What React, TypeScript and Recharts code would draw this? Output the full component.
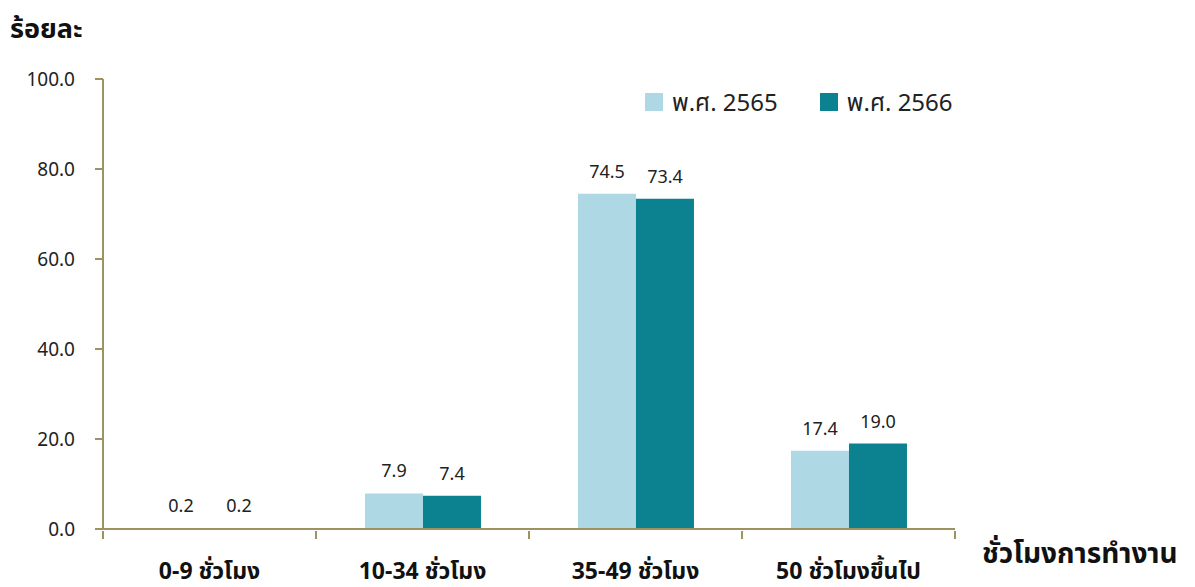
import React from 'react';
import { BarChart, Bar, XAxis, YAxis, LabelList } from 'recharts';

const categories = ['0-9 ชั่วโมง', '10-34 ชั่วโมง', '35-49 ชั่วโมง', '50 ชั่วโมงขึ้นไป'];
const series2565 = [0.2, 7.9, 74.5, 17.4];
const series2566 = [0.2, 7.4, 73.4, 19.0];
const seriesNames = ['พ.ศ. 2565', 'พ.ศ. 2566'];
const seriesColors = ['#ADD8E4', '#0C8290'];
const yTicks = [0, 20, 40, 60, 80, 100];

const data = categories.map((c, i) => ({ name: c, s2565: series2565[i], s2566: series2566[i] }));

const FONT = '"Noto Sans", "Noto Sans Thai", "Open Sans", sans-serif';
const AXIS = '#9C9262';

const XTick = (props: any) => {
  const { x, y, payload, index } = props;
  const half = payload && payload.offset ? payload.offset : 0;
  const last = index === categories.length - 1;
  return (
    <g>
      <line x1={x - half} x2={x - half} y1={y - 8} y2={y} stroke={AXIS} strokeWidth={2} />
      {last && <line x1={x + half} x2={x + half} y1={y - 8} y2={y} stroke={AXIS} strokeWidth={2} />}
      <text x={x} y={y + 40} textAnchor="middle" fill="#111" fontSize={23} fontWeight={700} fontFamily={FONT}>
        {payload.value}
      </text>
    </g>
  );
};

export default function App() {
  return (
    <div style={{ position: 'absolute', left: 0, top: 0, width: 1195, height: 587, background: '#fff', fontFamily: FONT }}>
      <div style={{ position: 'absolute', left: 10, top: 10, fontSize: 27, fontWeight: 700, color: '#111', lineHeight: '36px' }}>ร้อยละ</div>
      <div style={{ position: 'absolute', left: 982, top: 533, fontSize: 28, fontWeight: 700, color: '#111', lineHeight: '38px', whiteSpace: 'nowrap' }}>ชั่วโมงการทำงาน</div>
      <div style={{ position: 'absolute', left: 645, top: 86, display: 'flex', fontSize: 24, color: '#222', lineHeight: '32px' }}>
        {seriesNames.map((n, i) => (
          <div key={n} style={{ display: 'flex', alignItems: 'center', marginRight: 42 }}>
            <span style={{ display: 'inline-block', width: 18, height: 18, background: seriesColors[i], marginRight: 9 }} />
            <span>{n}</span>
          </div>
        ))}
      </div>
      <BarChart
        width={1195}
        height={587}
        data={data}
        margin={{ top: 79, right: 240, bottom: 0, left: 0 }}
        barCategoryGap="23%"
        barGap={0}
        style={{ position: 'absolute', left: 0, top: 0 }}
      >
        <XAxis
          dataKey="name"
          height={58}
          axisLine={{ stroke: AXIS, strokeWidth: 2 }}
          tickLine={false}
          tickSize={8}
          interval={0}
          tick={<XTick />}
        />
        <YAxis
          width={103}
          domain={[0, 100]}
          ticks={yTicks}
          tickFormatter={(v: number) => v.toFixed(1)}
          axisLine={{ stroke: AXIS, strokeWidth: 2 }}
          tickLine={{ stroke: AXIS, strokeWidth: 2 }}
          tickSize={8}
          tick={{ fill: '#222', fontSize: 19, fontFamily: FONT, dx: -18 }}
        />
        <Bar dataKey="s2565" name={seriesNames[0]} fill={seriesColors[0]} isAnimationActive={false}>
          <LabelList dataKey="s2565" position="top" offset={16} formatter={(v: number) => v.toFixed(1)} style={{ fill: '#222', fontSize: 18, fontFamily: FONT }} />
        </Bar>
        <Bar dataKey="s2566" name={seriesNames[1]} fill={seriesColors[1]} isAnimationActive={false}>
          <LabelList dataKey="s2566" position="top" offset={16} formatter={(v: number) => v.toFixed(1)} style={{ fill: '#222', fontSize: 18, fontFamily: FONT }} />
        </Bar>
      </BarChart>
    </div>
  );
}
